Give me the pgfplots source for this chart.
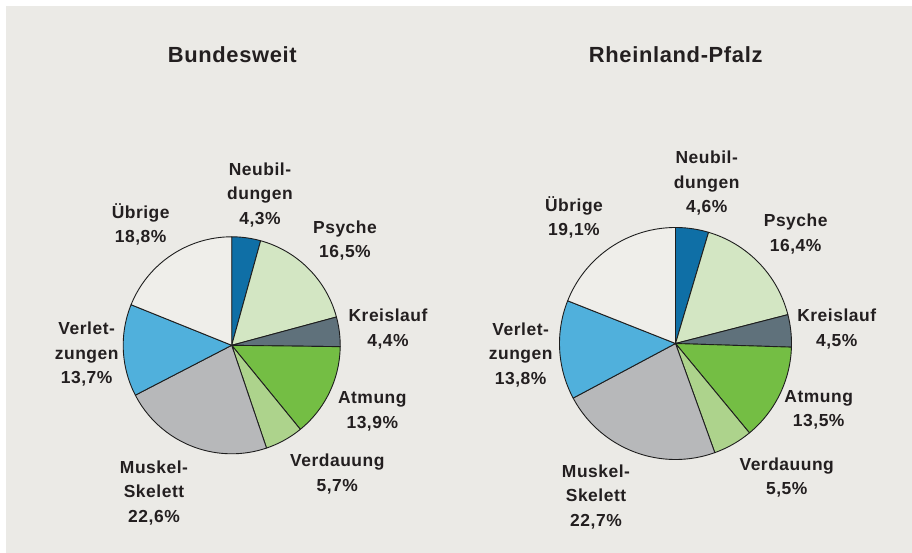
\documentclass[border=0pt]{standalone}
\usepackage{pgfplots}
\pgfplotsset{compat=1.18}
\usepackage{fontspec}
\setmainfont{Liberation Sans}[LetterSpace=3]
\definecolor{bg}{HTML}{EBEAE6}
\definecolor{txt}{HTML}{231F20}
\definecolor{edge}{HTML}{1E1E1E}
\definecolor{cNeu}{HTML}{0F6FA6}
\definecolor{cPsy}{HTML}{D3E6C3}
\definecolor{cKre}{HTML}{5F717B}
\definecolor{cAtm}{HTML}{74BE44}
\definecolor{cVer}{HTML}{ADD38C}
\definecolor{cMus}{HTML}{B7B8BA}
\definecolor{cVle}{HTML}{50B0DC}
\definecolor{cUeb}{HTML}{EFEEEA}
% #1 cx, #2 cy, #3 radius, #4 cumulative start (%), #5 cumulative end (%), #6 colour
\newcommand{\slice}[6]{%
  \addplot[draw=edge, line width=0.9pt, line join=round, fill=#6, domain=#4:#5, samples=60, variable=\t]
    ({#1+#3*cos(90-3.6*\t)},{#2+#3*sin(90-3.6*\t)}) -- (axis cs:#1,#2) -- cycle;}
\tikzset{lab/.style={font=\fontsize{17.5}{24.5}\selectfont\bfseries, text=txt, align=center, inner sep=0pt},
         ttl/.style={font=\fontsize{22}{26}\selectfont\bfseries, text=txt, inner sep=0pt}}
\begin{document}
\begin{tikzpicture}
\begin{axis}[
  at={(0,0)}, anchor=south west,
  scale only axis, width=912bp, height=553bp,
  xmin=0, xmax=912, ymin=0, ymax=553,
  hide axis, clip=false]
% background
\fill[white] (axis cs:0,0) rectangle (axis cs:912,553);
\fill[bg] (axis cs:6,0) rectangle (axis cs:912,547);
% Bundesweit: values 4.3, 16.5, 4.4, 13.9, 5.7, 22.6, 13.7, 18.8
\slice{231.7}{207.7}{108.5}{0}{4.3}{cNeu}
\slice{231.7}{207.7}{108.5}{4.3}{20.8}{cPsy}
\slice{231.7}{207.7}{108.5}{20.8}{25.2}{cKre}
\slice{231.7}{207.7}{108.5}{25.2}{39.1}{cAtm}
\slice{231.7}{207.7}{108.5}{39.1}{44.8}{cVer}
\slice{231.7}{207.7}{108.5}{44.8}{67.4}{cMus}
\slice{231.7}{207.7}{108.5}{67.4}{81.1}{cVle}
\slice{231.7}{207.7}{108.5}{81.1}{100}{cUeb}
% Rheinland-Pfalz: values 4.6, 16.4, 4.5, 13.5, 5.5, 22.7, 13.8, 19.1
\slice{675.5}{209.5}{116}{0}{4.6}{cNeu}
\slice{675.5}{209.5}{116}{4.6}{21.0}{cPsy}
\slice{675.5}{209.5}{116}{21.0}{25.5}{cKre}
\slice{675.5}{209.5}{116}{25.5}{39.0}{cAtm}
\slice{675.5}{209.5}{116}{39.0}{44.5}{cVer}
\slice{675.5}{209.5}{116}{44.5}{67.2}{cMus}
\slice{675.5}{209.5}{116}{67.2}{81.0}{cVle}
\slice{675.5}{209.5}{116}{81.0}{100}{cUeb}
% titles
\node[ttl] at (axis cs:232.3,498) {Bundesweit};
\node[ttl] at (axis cs:675.7,498) {Rheinland-Pfalz};
% labels Bundesweit
\node[lab] at (axis cs:260,358) {Neubil-\\dungen\\4,3\%};
\node[lab] at (axis cs:345,312.2) {Psyche\\16,5\%};
\node[lab] at (axis cs:388,223.8) {Kreislauf\\4,4\%};
\node[lab] at (axis cs:372.3,141.8) {Atmung\\13,9\%};
\node[lab] at (axis cs:337.3,78.8) {Verdauung\\5,7\%};
\node[lab] at (axis cs:154,60) {Muskel-\\Skelett\\22,6\%};
\node[lab] at (axis cs:86.7,198.7) {Verlet-\\zungen\\13,7\%};
\node[lab] at (axis cs:140.7,328.7) {Übrige\\18,8\%};
% labels Rheinland-Pfalz
\node[lab] at (axis cs:706.7,369.7) {Neubil-\\dungen\\4,6\%};
\node[lab] at (axis cs:795.7,319.1) {Psyche\\16,4\%};
\node[lab] at (axis cs:836.7,223.8) {Kreislauf\\4,5\%};
\node[lab] at (axis cs:818.7,143.2) {Atmung\\13,5\%};
\node[lab] at (axis cs:786.7,75.5) {Verdauung\\5,5\%};
\node[lab] at (axis cs:596,56.3) {Muskel-\\Skelett\\22,7\%};
\node[lab] at (axis cs:520.7,198) {Verlet-\\zungen\\13,8\%};
\node[lab] at (axis cs:574,335.5) {Übrige\\19,1\%};
\end{axis}
\end{tikzpicture}
\end{document}
